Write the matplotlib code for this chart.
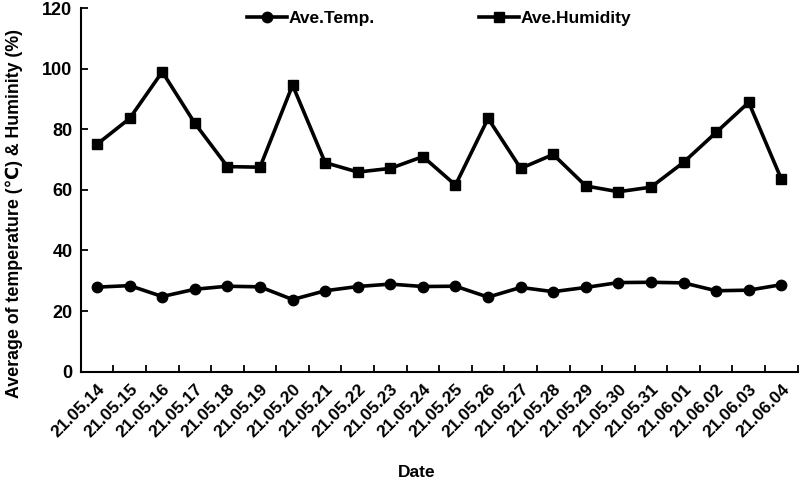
import matplotlib.pyplot as plt
import numpy as np

plt.rcParams['font.family'] = ['Liberation Sans', 'DejaVu Sans']
plt.rcParams['font.weight'] = 'bold'

dates = ['21.05.14', '21.05.15', '21.05.16', '21.05.17', '21.05.18', '21.05.19',
         '21.05.20', '21.05.21', '21.05.22', '21.05.23', '21.05.24', '21.05.25',
         '21.05.26', '21.05.27', '21.05.28', '21.05.29', '21.05.30', '21.05.31',
         '21.06.01', '21.06.02', '21.06.03', '21.06.04']
ave_temp = [27.9, 28.4, 24.8, 27.2, 28.2, 28.0, 23.8, 26.7, 28.1, 28.9, 28.1,
            28.2, 24.6, 27.8, 26.4, 27.8, 29.4, 29.5, 29.3, 26.7, 26.9, 28.7]
ave_humidity = [75.1, 83.6, 99.0, 82.0, 67.7, 67.5, 94.6, 69.0, 65.9, 67.1, 71.0,
                61.6, 83.6, 67.1, 71.7, 61.3, 59.4, 60.9, 69.1, 79.0, 88.9, 63.6]

fig = plt.figure(figsize=(8, 4.82), dpi=100)
ax = fig.add_axes([0.101, 0.229, 0.896, 0.754])

x = np.arange(len(dates))
ax.plot(x, ave_temp, color='black', lw=2.6, marker='o', ms=7.5, label='Ave.Temp.')
ax.plot(x, ave_humidity, color='black', lw=2.6, marker='s', ms=7.5, label='Ave.Humidity')

ax.set_xlim(-0.5, len(dates) - 0.5)
ax.set_ylim(0, 120)
ax.set_yticks(range(0, 121, 20))
ax.set_xticks(x)
ax.set_xticklabels(dates, rotation=45, ha='right', rotation_mode='anchor')
ax.set_xticks(np.arange(len(dates) + 1) - 0.5, minor=True)
ax.tick_params(axis='x', which='major', length=0, pad=7, labelsize=12.5)
ax.tick_params(axis='x', which='minor', direction='in', length=5, width=1.3)
ax.tick_params(axis='y', direction='in', length=5, width=1.3, labelsize=13, pad=6)

for s in ['top', 'right']:
    ax.spines[s].set_visible(False)
for s in ['left', 'bottom']:
    ax.spines[s].set_linewidth(1.5)

ax.set_xlabel('Date', fontsize=12.5, fontweight='bold', labelpad=18, x=0.469)
ax.set_ylabel('Average of temperature (\u2103) & Huminity (%)', fontsize=12.8,
              fontweight='bold', labelpad=14, y=0.434)

ax.legend(loc='upper center', bbox_to_anchor=(0.5, 1.035), ncol=2, frameon=False,
          fontsize=12.5, handlelength=2.3, columnspacing=6, handletextpad=0.1)

fig.savefig('out.png', dpi=100)
